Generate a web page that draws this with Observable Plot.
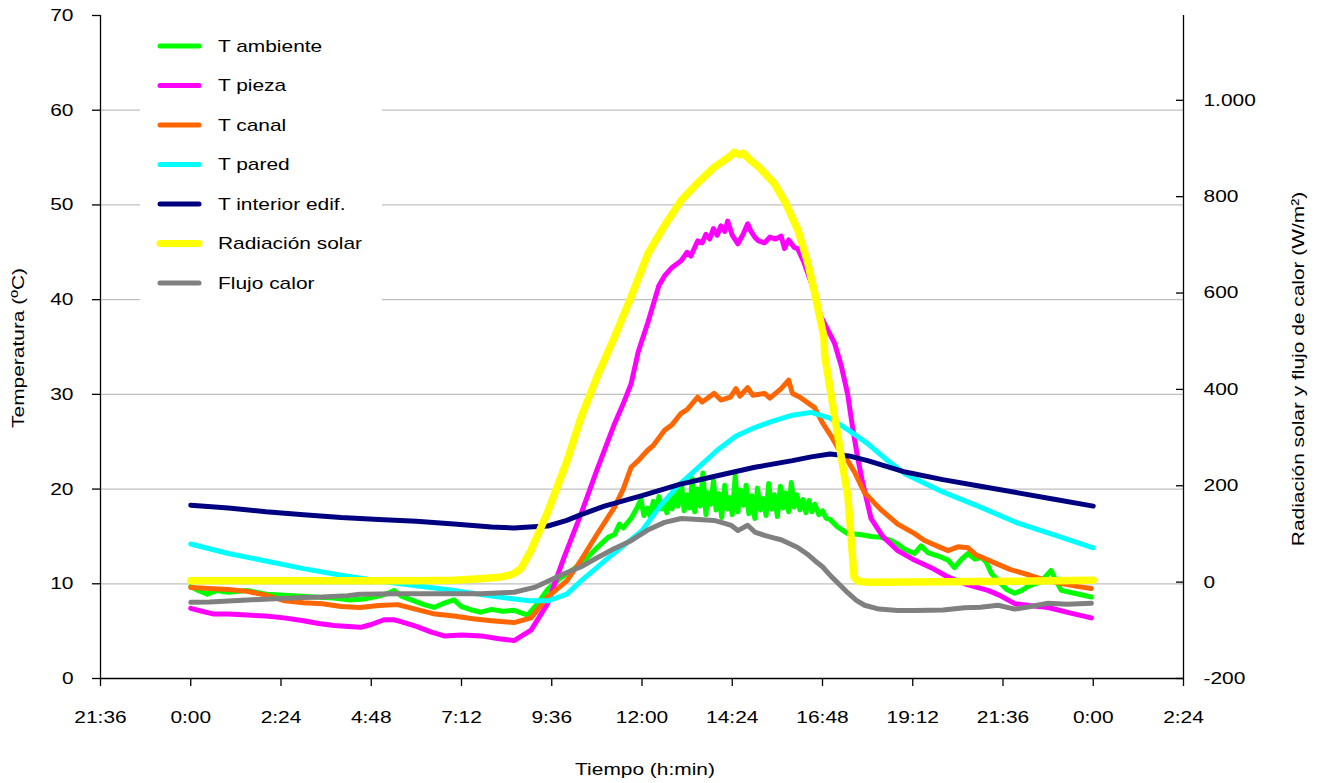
<!DOCTYPE html>
<html><head><meta charset="utf-8">
<script src="https://cdn.jsdelivr.net/npm/d3@7"></script>
<script src="https://cdn.jsdelivr.net/npm/@observablehq/plot@0.6"></script>
<style>
body{margin:0;background:#fff;}
#wrap{width:1317px;height:783px;}
</style></head><body><div id="wrap"></div>
<script>
// ---- data (time in hours from 0:00; temperatures in ºC; radiation / heat flux in W/m²) ----
const tAmbiente = [[0,9.7],[0.2,9.3],[0.44,8.9],[0.7,9.3],[1.0,9.1],[1.5,9.3],[2.0,8.9],[2.5,8.8],[3.28,8.6],[3.8,8.5],[4.2,8.3],[4.61,8.4],[5.0,8.7],[5.25,9.0],[5.41,9.3],[5.6,8.7],[5.94,8.2],[6.2,7.8],[6.47,7.5],[6.7,7.9],[7.0,8.3],[7.2,7.6],[7.5,7.2],[7.72,7.0],[8.0,7.3],[8.3,7.1],[8.6,7.2],[8.96,6.7],[9.2,7.8],[9.49,9.4],[9.8,10.5],[10.38,12.1],[10.8,13.8],[11.1,14.9],[11.27,15.2],[11.4,16.3],[11.5,15.9],[11.71,16.9],[11.85,17.9],[11.97,18.9],[12.05,17.2],
 [12.15,18.0],[12.22,17.1],[12.3,18.7],[12.37,17.6],[12.45,19.2],[12.52,17.9],[12.6,18.4],[12.66,17.5],[12.74,19.3],[12.8,17.9],[12.9,19.9],[12.96,18.2],[13.05,20.6],[13.12,17.7],[13.2,19.4],[13.27,18.0],[13.34,21.1],[13.4,17.6],[13.48,20.0],[13.55,18.2],[13.62,21.7],[13.7,17.3],[13.76,19.6],[13.83,18.4],[13.9,20.9],[13.97,17.8],[14.05,19.5],[14.12,17.0],[14.2,20.4],[14.27,17.9],[14.34,19.1],[14.4,17.3],[14.48,21.4],[14.55,17.6],[14.62,19.9],[14.7,18.3],[14.77,20.4],[14.84,17.4],[14.92,19.3],[15.0,16.9],[15.07,20.1],[15.15,17.8],[15.22,19.0],[15.3,17.2],[15.37,20.6],[15.45,17.9],[15.52,19.4],[15.6,17.1],[15.68,20.3],[15.75,18.0],[15.82,19.6],[15.9,17.6],[15.97,20.7],[16.05,18.1],[16.12,19.4],[16.2,17.8],[16.28,18.9],[16.36,17.5],[16.44,18.8],[16.52,17.6],[16.6,18.4],[16.7,17.3],[16.8,17.7],[16.9,16.9],[17.0,16.8],
 [17.2,16.0],[17.47,15.3],[17.8,15.2],[18.1,15.0],[18.36,14.9],[18.6,14.6],[18.8,14.2],[19.0,13.6],[19.25,13.2],[19.42,14.0],[19.6,13.3],[19.9,12.9],[20.14,12.5],[20.31,11.7],[20.5,12.6],[20.67,13.2],[20.85,12.6],[21.02,12.8],[21.15,12.3],[21.29,11.1],[21.5,10.2],[21.7,9.4],[21.91,9.0],[22.1,9.3],[22.3,9.8],[22.44,10.0],[22.6,10.2],[22.88,11.4],[23.0,10.4],[23.15,9.3],[23.5,9.0],[23.95,8.6]];

const tPieza = [[0,7.4],[0.3,7.1],[0.62,6.8],[1.0,6.8],[1.5,6.7],[2.0,6.6],[2.48,6.4],[3.0,6.1],[3.4,5.8],[3.81,5.6],[4.2,5.5],[4.52,5.4],[4.8,5.7],[5.14,6.2],[5.4,6.2],[5.59,6.0],[6.0,5.5],[6.4,4.9],[6.74,4.5],[7.2,4.6],[7.72,4.5],[8.2,4.2],[8.6,4.0],[9.05,5.1],[9.49,7.9],[9.9,12.5],[10.38,17.4],[10.8,22.0],[11.27,26.9],[11.5,29.0],[11.71,31.1],[11.9,34.5],[12.15,37.5],[12.3,39.5],[12.45,41.5],[12.6,42.5],[12.8,43.4],[13.04,44.1],[13.2,45.0],[13.3,44.6],[13.48,46.2],[13.6,46.0],[13.7,46.9],[13.8,46.4],[13.9,47.5],[14.0,46.8],[14.1,47.8],[14.2,47.2],[14.28,48.3],[14.4,46.8],[14.55,45.9],[14.7,47.0],[14.81,48.0],[14.9,47.2],[15.0,46.6],[15.1,46.2],[15.26,46.0],[15.4,46.6],[15.55,46.4],[15.7,46.7],[15.79,45.4],[15.9,46.3],[16.05,45.5],[16.14,45.4],[16.3,44.0],[16.5,41.8],[16.76,38.2],[17.12,35.4],[17.3,33.0],[17.47,30.0],[17.6,26.5],[17.74,23.2],[17.85,21.0],[18.09,16.9],[18.4,15.0],[18.8,13.5],[19.2,12.6],[19.69,11.7],[20.1,10.8],[20.58,10.0],[21.2,9.3],[21.5,8.8],[21.91,7.9],[22.3,7.7],[22.8,7.5],[23.4,6.9],[23.95,6.4]];

const tCanal = [[0,9.6],[0.5,9.5],[1.0,9.4],[1.5,9.2],[2.0,8.8],[2.5,8.2],[3.0,8.0],[3.5,7.9],[4.0,7.6],[4.5,7.5],[5.0,7.7],[5.5,7.8],[6.0,7.3],[6.5,6.8],[7.0,6.6],[7.5,6.3],[8.0,6.1],[8.6,5.9],[9.05,6.4],[9.49,8.6],[10.0,10.3],[10.38,12.5],[10.8,15.2],[11.27,18.1],[11.5,20.0],[11.71,22.3],[11.9,23.0],[12.15,24.1],[12.3,24.6],[12.6,26.2],[12.8,26.8],[13.04,28.0],[13.2,28.4],[13.48,29.7],[13.6,29.2],[13.92,30.1],[14.1,29.4],[14.35,29.7],[14.5,30.6],[14.6,29.8],[14.81,30.7],[14.95,29.9],[15.26,30.1],[15.4,29.6],[15.7,30.6],[15.9,31.5],[16.0,30.1],[16.2,29.7],[16.59,28.6],[16.8,27.0],[17.03,25.6],[17.2,24.4],[17.47,23.0],[17.65,21.8],[17.92,19.6],[18.36,17.8],[18.8,16.3],[19.25,15.3],[19.5,14.6],[19.9,13.9],[20.14,13.5],[20.4,13.9],[20.67,13.8],[20.9,13.0],[21.1,12.7],[21.44,12.1],[21.8,11.5],[22.32,10.9],[22.7,10.4],[23.2,10.0],[23.6,9.7],[23.95,9.5]];

const tPared = [[0,14.2],[1,13.2],[2,12.4],[3,11.6],[4,10.9],[5,10.3],[6,9.8],[7,9.3],[8,8.7],[9,8.2],[9.5,8.2],[10,8.9],[10.38,10.3],[11,12.4],[11.5,14.0],[12,15.6],[12.5,18.3],[13,20.5],[13.5,22.3],[14,24.1],[14.5,25.6],[15,26.5],[15.5,27.2],[16,27.8],[16.5,28.1],[17,27.5],[17.5,26.2],[18,24.8],[18.5,23.1],[19,21.6],[20,19.7],[21,18.1],[22,16.4],[23,15.1],[24,13.8]];

const tInterior = [[0,18.3],[1,18.0],[2,17.6],[3,17.3],[4,17.0],[5,16.8],[6,16.6],[7,16.3],[8,16.0],[8.6,15.9],[9,16.0],[9.5,16.1],[10,16.7],[10.38,17.3],[11,18.2],[12,19.3],[13,20.5],[14,21.4],[15,22.3],[16,23.0],[16.5,23.4],[17,23.7],[17.5,23.5],[18,23.0],[18.5,22.4],[19,21.8],[20,21.0],[21,20.3],[22,19.6],[23,18.9],[24,18.2]];

const radSolar = [[0,3],[2,3],[4,3],[6,3],[7,4],[7.7,7],[8.2,10],[8.45,14],[8.6,18],[8.78,28],[9.05,66],[9.49,145],[10.0,250],[10.38,342],[10.8,425],[11.27,509],[11.7,590],[12.16,682],[12.6,740],[13.04,792],[13.5,830],[13.92,861],[14.2,876],[14.35,884],[14.45,892],[14.6,887],[14.7,890],[14.85,878],[15.1,862],[15.51,828],[15.8,790],[16.15,730],[16.4,665],[16.58,605],[16.84,508],[16.86,470],[17.11,350],[17.3,260],[17.48,176],[17.64,10],[17.75,2],[18,0],[20,1],[22,2],[24,4]];

const flujoCalor = [[0,-42],[0.5,-41],[1,-39],[1.5,-37],[2.39,-34],[3,-32],[3.5,-31],[4.17,-28],[4.5,-25],[5.5,-24],[6.83,-24],[7.72,-24],[8.3,-22],[8.6,-21],[9.14,-11],[9.5,2],[9.94,18],[10.38,32],[10.82,51],[11.27,70],[11.71,86],[12.15,108],[12.6,124],[13.04,132],[13.5,130],[13.92,128],[14.2,122],[14.37,118],[14.55,107],[14.81,118],[15.0,104],[15.26,97],[15.5,92],[15.7,88],[16.14,72],[16.4,58],[16.59,45],[16.8,32],[17.03,12],[17.25,-5],[17.47,-22],[17.7,-38],[17.92,-48],[18.3,-56],[18.8,-59],[19.25,-59],[20,-58],[20.58,-53],[21,-52],[21.47,-48],[21.91,-56],[22.3,-51],[22.8,-44],[23.3,-46],[23.95,-44]];

const seriesNames = ["T ambiente","T pieza","T canal","T pared","T interior edif.","Radiación solar","Flujo calor"];
const seriesColors = ["#00ff00","#ff00ff","#ff6600","#00ffff","#000080","#ffff00","#808080"];

const xTicks = [-2.4,0,2.4,4.8,7.2,9.6,12,14.4,16.8,19.2,21.6,24,26.4];
const xTickLabels = ["21:36","0:00","2:24","4:48","7:12","9:36","12:00","14:24","16:48","19:12","21:36","0:00","2:24"];
const yTicks = [0,10,20,30,40,50,60,70];
const gridTicks = [10,20,30,40,50,60];
const rTicks = [-200,0,200,400,600,800,1000];
const rTickLabels = ["-200","0","200","400","600","800","1.000"];
const R0 = -200, R1 = 1176;   // right-axis domain mapped onto the left 0–70 ºC axis

// ---- build ----
const toLeft = v => (v - R0) / (R1 - R0) * 70;
const tempSeries = [tAmbiente, tPieza, tCanal, tPared, tInterior];
const wSeries = [radSolar, flujoCalor];
const allSeries = [...tempSeries, ...wSeries.map(s => s.map(([h, v]) => [h, toLeft(v)]))];

const font = "Liberation Sans, Arial, sans-serif";
const chart = Plot.plot({
  width: 1317, height: 783,
  marginLeft: 100, marginRight: 134, marginTop: 15, marginBottom: 105,
  style: {fontFamily: font, fontSize: "17px", background: "#fff", color: "#000", overflow: "visible"},
  x: {domain: [-2.4, 26.4], label: null},
  y: {domain: [0, 70], label: null},
  marks: [
    Plot.gridY(gridTicks, {stroke: "#c0c0c0", strokeOpacity: 1, strokeWidth: 1.3}),
    ...allSeries.map((s, i) => Plot.line(s, {
      x: d => d[0], y: d => d[1], stroke: seriesColors[i],
      strokeWidth: i === 5 ? 7.5 : 5, strokeLinecap: "round", strokeLinejoin: "round"
    })),
    Plot.ruleX([-2.4], {stroke: "#000", strokeWidth: 1.3}),
    Plot.ruleX([26.4], {stroke: "#000", strokeWidth: 1.3}),
    Plot.ruleY([0], {stroke: "#000", strokeWidth: 1.3}),
    Plot.axisY(yTicks, {anchor: "left", tickSize: 8, tickPadding: 19, strokeWidth: 1.3, fontSize: 17, label: null}),
    Plot.axisY(rTicks.map(toLeft), {anchor: "right", tickSize: -8, tickPadding: 28, strokeWidth: 1.3, fontSize: 17, label: null,
      tickFormat: (d, i) => rTickLabels[i], textAnchor: "start"}),
    Plot.axisX(xTicks, {anchor: "bottom", tickSize: 8, tickPadding: 24, strokeWidth: 1.3, fontSize: 17, label: null,
      tickFormat: (d, i) => xTickLabels[i]})
  ]
});
document.getElementById("wrap").appendChild(chart);

// ---- titles & legend ----
const svg = d3.select(chart);
const addText = (txt, x, y, rot, anchor = "middle") => svg.append("text")
  .attr("transform", `translate(${x},${y}) rotate(${rot})`)
  .attr("text-anchor", anchor).attr("dominant-baseline", "central")
  .attr("font-family", font).attr("font-size", 17).attr("fill", "#000").text(txt);
addText("Temperatura (ºC)", 18, 348, -90);
addText("Radiación solar y flujo de calor (W/m²)", 1298, 369, -90);
addText("Tiempo (h:min)", 645, 769, 0);

const lg = svg.append("g");
lg.append("rect").attr("x", 140).attr("y", 22).attr("width", 242).attr("height", 280).attr("fill", "#fff");
seriesNames.forEach((name, i) => {
  const cy = 46 + i * 39.5;
  lg.append("line").attr("x1", 160).attr("x2", 199).attr("y1", cy).attr("y2", cy)
    .attr("stroke", seriesColors[i]).attr("stroke-width", i === 5 ? 7 : 5).attr("stroke-linecap", "round");
  lg.append("text").attr("x", 218).attr("y", cy).attr("dominant-baseline", "central").attr("text-anchor", "start")
    .attr("font-family", font).attr("font-size", 17).attr("fill", "#000").text(name);
});

// stretch glyphs horizontally to match the reference's wide lettering
svg.selectAll("text").each(function() {
  const len = this.getComputedTextLength();
  if (len > 0) {
    this.setAttribute("textLength", (len * 1.23).toFixed(1));
    this.setAttribute("lengthAdjust", "spacingAndGlyphs");
  }
});
</script></body></html>
